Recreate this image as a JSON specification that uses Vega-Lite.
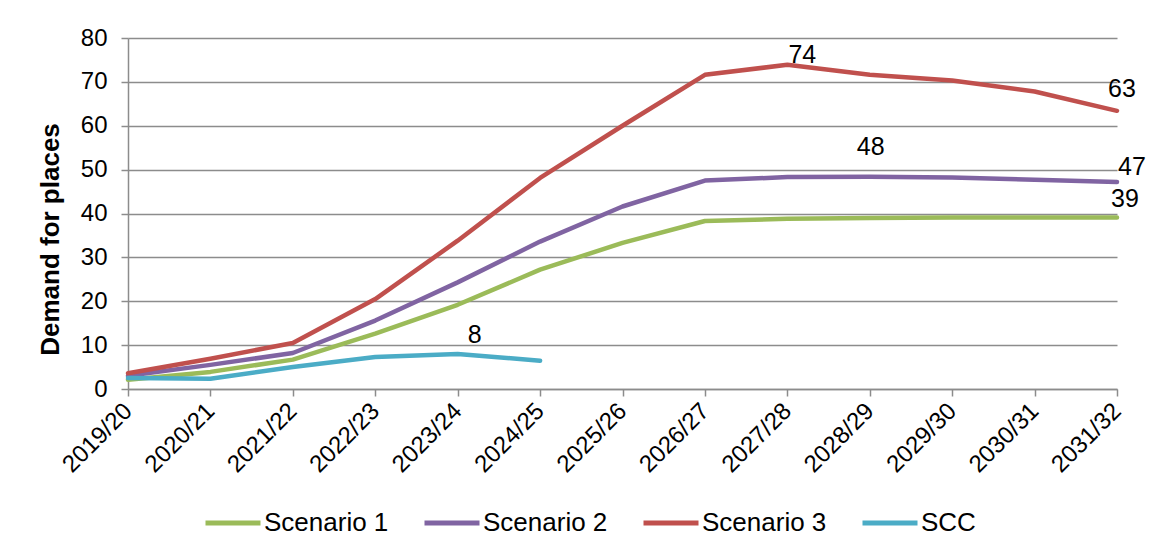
{
  "$schema": "https://vega.github.io/schema/vega-lite/v6.json",
  "autosize": "none",
  "width": 989,
  "height": 351,
  "padding": {"left": 128, "top": 38, "right": 42, "bottom": 170},
  "background": "white",
  "config": {
    "view": {"stroke": null},
    "font": "Liberation Sans",
    "axis": {"labelFont": "Liberation Sans", "titleFont": "Liberation Sans"},
    "legend": {"labelFont": "Liberation Sans"}
  },
  "data": {
    "values": [
      {"series": "Scenario 1", "year": "2019/20", "value": 2.1},
      {"series": "Scenario 1", "year": "2020/21", "value": 3.9},
      {"series": "Scenario 1", "year": "2021/22", "value": 6.7},
      {"series": "Scenario 1", "year": "2022/23", "value": 12.6},
      {"series": "Scenario 1", "year": "2023/24", "value": 19.2},
      {"series": "Scenario 1", "year": "2024/25", "value": 27.2},
      {"series": "Scenario 1", "year": "2025/26", "value": 33.3},
      {"series": "Scenario 1", "year": "2026/27", "value": 38.3},
      {"series": "Scenario 1", "year": "2027/28", "value": 38.8},
      {"series": "Scenario 1", "year": "2028/29", "value": 39.0},
      {"series": "Scenario 1", "year": "2029/30", "value": 39.1},
      {"series": "Scenario 1", "year": "2030/31", "value": 39.1},
      {"series": "Scenario 1", "year": "2031/32", "value": 39.1},
      {"series": "Scenario 2", "year": "2019/20", "value": 3.0},
      {"series": "Scenario 2", "year": "2020/21", "value": 5.5},
      {"series": "Scenario 2", "year": "2021/22", "value": 8.2},
      {"series": "Scenario 2", "year": "2022/23", "value": 15.6},
      {"series": "Scenario 2", "year": "2023/24", "value": 24.3},
      {"series": "Scenario 2", "year": "2024/25", "value": 33.6},
      {"series": "Scenario 2", "year": "2025/26", "value": 41.6},
      {"series": "Scenario 2", "year": "2026/27", "value": 47.5},
      {"series": "Scenario 2", "year": "2027/28", "value": 48.3},
      {"series": "Scenario 2", "year": "2028/29", "value": 48.4},
      {"series": "Scenario 2", "year": "2029/30", "value": 48.2},
      {"series": "Scenario 2", "year": "2030/31", "value": 47.7},
      {"series": "Scenario 2", "year": "2031/32", "value": 47.2},
      {"series": "Scenario 3", "year": "2019/20", "value": 3.6},
      {"series": "Scenario 3", "year": "2020/21", "value": 6.9},
      {"series": "Scenario 3", "year": "2021/22", "value": 10.5},
      {"series": "Scenario 3", "year": "2022/23", "value": 20.5},
      {"series": "Scenario 3", "year": "2023/24", "value": 33.8},
      {"series": "Scenario 3", "year": "2024/25", "value": 48.1},
      {"series": "Scenario 3", "year": "2025/26", "value": 60.0},
      {"series": "Scenario 3", "year": "2026/27", "value": 71.6},
      {"series": "Scenario 3", "year": "2027/28", "value": 73.9},
      {"series": "Scenario 3", "year": "2028/29", "value": 71.6},
      {"series": "Scenario 3", "year": "2029/30", "value": 70.3},
      {"series": "Scenario 3", "year": "2030/31", "value": 67.8},
      {"series": "Scenario 3", "year": "2031/32", "value": 63.4},
      {"series": "SCC", "year": "2019/20", "value": 2.5},
      {"series": "SCC", "year": "2020/21", "value": 2.35},
      {"series": "SCC", "year": "2021/22", "value": 5.0},
      {"series": "SCC", "year": "2022/23", "value": 7.3},
      {"series": "SCC", "year": "2023/24", "value": 8.0},
      {"series": "SCC", "year": "2024/25", "value": 6.45}
    ]
  },
  "encoding": {
    "x": {
      "field": "year", "type": "ordinal", "sort": null,
      "scale": {"type": "point", "padding": 0},
      "axis": {
        "title": null, "labelAngle": -45, "labelAlign": "right", "labelBaseline": "middle",
        "labelFontSize": 24, "labelColor": "black", "labelPadding": 11,
        "domainColor": "#8c8c8c", "domainWidth": 1.5,
        "tickColor": "#8c8c8c", "tickWidth": 1.5, "tickSize": 7, "grid": false
      }
    },
    "y": {
      "field": "value", "type": "quantitative",
      "scale": {"domain": [0, 80], "nice": false},
      "axis": {
        "title": "Demand for places", "titleFontSize": 26, "titleFontWeight": "bold", "titleColor": "black",
        "titleAngle": 270, "titleX": -70, "titleY": 201, "titleAlign": "center", "titleBaseline": "alphabetic",
        "values": [0, 10, 20, 30, 40, 50, 60, 70, 80],
        "labelFontSize": 24, "labelColor": "black", "labelPadding": 14,
        "domainColor": "#8c8c8c", "domainWidth": 1.5,
        "tickColor": "#8c8c8c", "tickWidth": 1.5, "tickSize": 7,
        "grid": true, "gridColor": "#8c8c8c", "gridWidth": 1.5
      }
    }
  },
  "layer": [
    {
      "mark": {"type": "line", "strokeWidth": 4.5, "strokeCap": "round", "strokeJoin": "round"},
      "encoding": {
        "color": {
          "field": "series", "type": "nominal",
          "scale": {"domain": ["Scenario 1", "Scenario 2", "Scenario 3", "SCC"], "range": ["#9BBB59", "#8064A2", "#C0504D", "#4BACC6"]},
          "legend": {
            "title": null, "orient": "none", "direction": "horizontal",
            "legendX": 75, "legendY": 455,
            "symbolType": "stroke", "symbolSize": 3025, "symbolStrokeWidth": 5,
            "labelFontSize": 26, "labelColor": "black", "labelOffset": 1, "columnPadding": 25,
            "padding": 0
          }
        }
      }
    },
    {
      "transform": [{"filter": "datum.series === 'Scenario 3' && datum.year === '2027/28'"}],
      "mark": {"type": "text", "fontSize": 25, "baseline": "middle", "dx": 15, "dy": -9.5, "color": "black"},
      "encoding": {"text": {"field": "value", "type": "quantitative", "format": ".0f"}}
    },
    {
      "transform": [{"filter": "datum.series === 'Scenario 2' && datum.year === '2028/29'"}],
      "mark": {"type": "text", "fontSize": 25, "baseline": "middle", "dx": 1, "dy": -29.5, "color": "black"},
      "encoding": {"text": {"field": "value", "type": "quantitative", "format": ".0f"}}
    },
    {
      "transform": [{"filter": "datum.series === 'Scenario 3' && datum.year === '2031/32'"}],
      "mark": {"type": "text", "fontSize": 25, "baseline": "middle", "dx": 5, "dy": -22, "color": "black"},
      "encoding": {"text": {"field": "value", "type": "quantitative", "format": ".0f"}}
    },
    {
      "transform": [{"filter": "datum.series === 'Scenario 2' && datum.year === '2031/32'"}],
      "mark": {"type": "text", "fontSize": 25, "baseline": "middle", "dx": 15, "dy": -15, "color": "black"},
      "encoding": {"text": {"field": "value", "type": "quantitative", "format": ".0f"}}
    },
    {
      "transform": [{"filter": "datum.series === 'Scenario 1' && datum.year === '2031/32'"}],
      "mark": {"type": "text", "fontSize": 25, "baseline": "middle", "dx": 8, "dy": -18, "color": "black"},
      "encoding": {"text": {"field": "value", "type": "quantitative", "format": ".0f"}}
    },
    {
      "transform": [{"filter": "datum.series === 'SCC' && datum.year === '2023/24'"}],
      "mark": {"type": "text", "fontSize": 25, "baseline": "middle", "dx": 17, "dy": -19, "color": "black"},
      "encoding": {"text": {"field": "value", "type": "quantitative", "format": ".0f"}}
    }
  ]
}
